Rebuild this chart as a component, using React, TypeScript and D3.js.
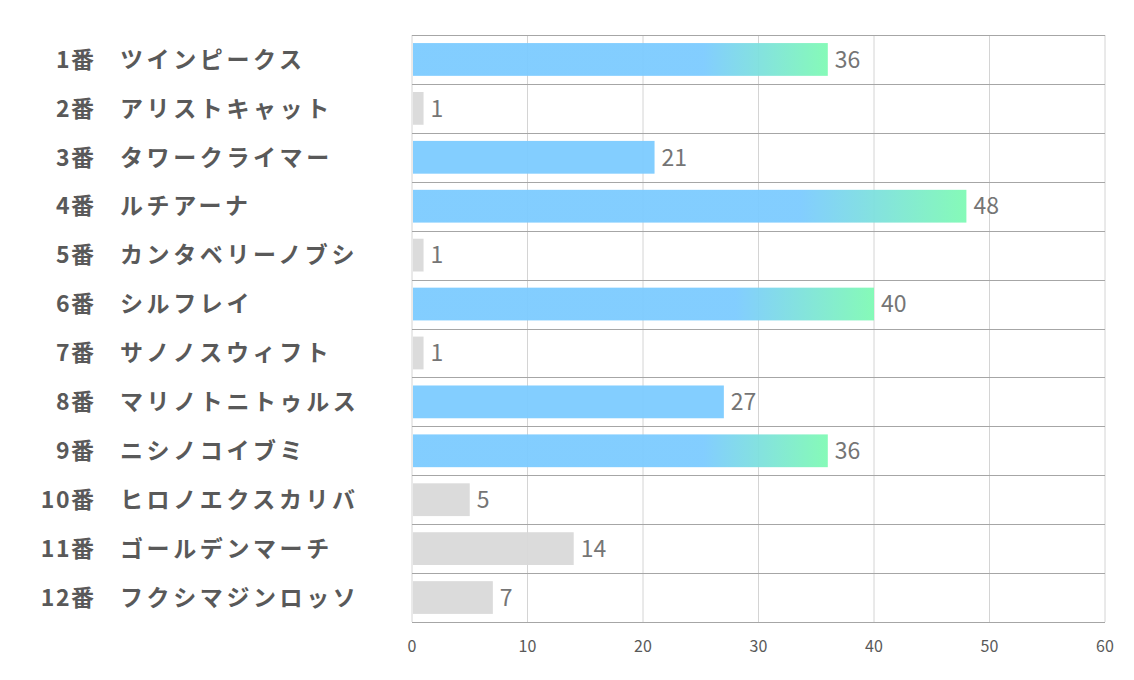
import React, { useRef, useEffect } from "react";
import * as d3 from "d3";

// 馬番・馬名・値
const numbers = ["1番", "2番", "3番", "4番", "5番", "6番", "7番", "8番", "9番", "10番", "11番", "12番"];
const names = [
  "ツインピークス",
  "アリストキャット",
  "タワークライマー",
  "ルチアーナ",
  "カンタベリーノブシ",
  "シルフレイ",
  "サノノスウィフト",
  "マリノトニトゥルス",
  "ニシノコイブミ",
  "ヒロノエクスカリバ",
  "ゴールデンマーチ",
  "フクシマジンロッソ",
];
const values = [36, 1, 21, 48, 1, 40, 1, 27, 36, 5, 14, 7];
const xTicks = [0, 10, 20, 30, 40, 50, 60];

const FONT = "'Noto Sans CJK JP', 'Noto Sans', sans-serif";

const App = () => {
  const ref = useRef<SVGSVGElement>(null);

  useEffect(() => {
    const width = 1134;
    const height = 680;
    const margin = { top: 35, right: 29, bottom: 58, left: 412 };

    const svg = d3.select(ref.current);
    svg.selectAll("*").remove();

    const x = d3.scaleLinear().domain([0, 60]).range([margin.left, width - margin.right]);
    const y = d3
      .scaleBand<number>()
      .domain(d3.range(values.length))
      .range([margin.top, height - margin.bottom])
      .paddingInner(0.33)
      .paddingOuter(0.165);
    const step = y.step();

    // グラデーション（各バーの70%から緑へ）
    const defs = svg.append("defs");
    values.forEach((v, i) => {
      const g = defs
        .append("linearGradient")
        .attr("id", `grad${i}`)
        .attr("x1", "0%")
        .attr("x2", "100%")
        .attr("y1", "0%")
        .attr("y2", "0%");
      g.append("stop").attr("offset", "70%").attr("stop-color", "#7ccbff");
      g.append("stop").attr("offset", "100%").attr("stop-color", "#7ffab4");
    });

    // 縦グリッド
    svg
      .append("g")
      .selectAll("line")
      .data(xTicks)
      .join("line")
      .attr("x1", (d) => x(d))
      .attr("x2", (d) => x(d))
      .attr("y1", margin.top)
      .attr("y2", height - margin.bottom)
      .attr("stroke", "#d4d4d4")
      .attr("stroke-width", 1);

    // 横の区切り線
    svg
      .append("g")
      .selectAll("line")
      .data(d3.range(values.length + 1))
      .join("line")
      .attr("x1", margin.left)
      .attr("x2", width - margin.right)
      .attr("y1", (d) => Math.round(margin.top + d * step) + 0.5)
      .attr("y2", (d) => Math.round(margin.top + d * step) + 0.5)
      .attr("stroke", "#a6a6a6")
      .attr("stroke-width", 1);

    // バー
    const fillFor = (v: number, i: number) => {
      if (v >= 30) return `url(#grad${i})`;
      if (v >= 20) return "#7ccbff";
      return "#d9d9d9";
    };
    svg
      .append("g")
      .selectAll("rect")
      .data(values)
      .join("rect")
      .attr("x", x(0) + 1)
      .attr("y", (d, i) => y(i)!)
      .attr("width", (d) => x(d) - x(0) - 1)
      .attr("height", y.bandwidth())
      .attr("fill", (d, i) => fillFor(d, i))
      .attr("fill-opacity", 0.95);

    // 値ラベル
    svg
      .append("g")
      .selectAll("text")
      .data(values)
      .join("text")
      .attr("x", (d) => x(d) + 7)
      .attr("y", (d, i) => y(i)! + y.bandwidth() / 2)
      .attr("dy", "0.36em")
      .attr("font-family", FONT)
      .attr("font-size", 23)
      .attr("fill", "#757575")
      .text((d) => d);

    // 左ラベル
    const labels = svg.append("g");
    labels
      .selectAll("text.num")
      .data(numbers)
      .join("text")
      .attr("class", "num")
      .attr("x", 95.5)
      .attr("y", (d, i) => y(i)! + y.bandwidth() / 2)
      .attr("dy", "0.36em")
      .attr("text-anchor", "end")
      .attr("font-family", FONT)
      .attr("font-weight", "bold")
      .attr("font-size", 23)
      .attr("letter-spacing", 1.5)
      .attr("fill", "#595959")
      .text((d) => d);
    labels
      .selectAll("text.name")
      .data(names)
      .join("text")
      .attr("class", "name")
      .attr("x", 120)
      .attr("y", (d, i) => y(i)! + y.bandwidth() / 2)
      .attr("dy", "0.36em")
      .attr("font-family", FONT)
      .attr("font-weight", "bold")
      .attr("font-size", 23)
      .attr("letter-spacing", 3.6)
      .attr("fill", "#595959")
      .text((d) => d);

    // X軸の目盛りラベル
    svg
      .append("g")
      .selectAll("text")
      .data(xTicks)
      .join("text")
      .attr("x", (d) => x(d))
      .attr("y", height - margin.bottom + 30)
      .attr("text-anchor", "middle")
      .attr("font-family", FONT)
      .attr("font-size", 16)
      .attr("fill", "#595959")
      .text((d) => d);
  }, []);

  return (
    <svg
      ref={ref}
      width={1134}
      height={680}
      style={{ position: "absolute", left: 0, top: 0, background: "#fff" }}
    />
  );
};

export default App;
